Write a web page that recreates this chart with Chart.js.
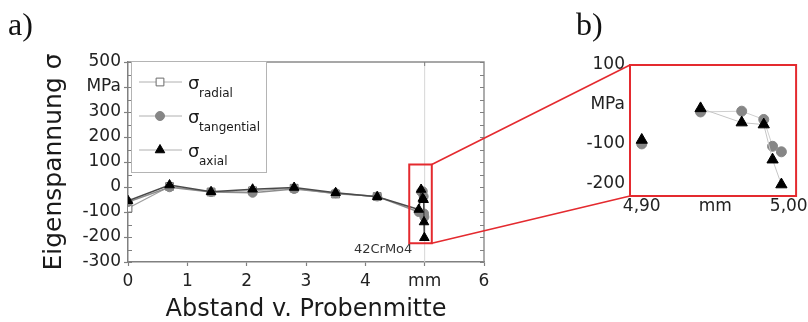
<!DOCTYPE html>
<html>
<head>
<meta charset="utf-8">
<script src="https://cdn.jsdelivr.net/npm/chart.js@4/dist/chart.umd.min.js"></script>
<style>
  html, body { margin: 0; padding: 0; background: #fff; }
  #wrap { position: relative; width: 808px; height: 322px; overflow: hidden; }
  #chartA { position: absolute; left: 0; top: 0; }
  #chartB { position: absolute; left: 560px; top: 0; }
</style>
</head>
<body>
<div id="wrap">
  <canvas id="chartA" width="808" height="322"></canvas>
  <canvas id="chartB" width="248" height="322"></canvas>
</div>
<script>
// Distance from specimen centre (mm)
const depthCore = [0, 0.7, 1.4, 2.1, 2.8, 3.5, 4.2];
const depthEdge = [4.90, 4.94, 4.968, 4.983, 4.989, 4.995];

// Residual stress components (MPa)
const radial     = [-85, 2, -20, -15, -5, -28, -38];
const tangential = [-60, -1, -20, -23, -8, -25, -38, -100, -19, -17, -38, -106, -120];
const axial      = [-55, 8, -19, -9, -2, -23, -39, -90, -10, -46, -51, -140, -203];

const seriesNames = ['radial', 'tangential', 'axial'];

// Tick labels
const xTickLabels = ['0', '1', '2', '3', '4', 'mm', '6'];
const yTickLabels = ['-300', '-200', '-100', '0', '100', '200', '300', 'MPa', '500'];
const zoomXTickLabels = ['4,90', 'mm', '5,00'];
const zoomYTickLabels = ['-200', '-100', 'MPa', '100'];

// Detail window (panel b) and the frame marking it in panel a
const zoomWindow = { xMin: 4.892, xMax: 5.005, yMin: -232, yMax: 100 };
const zoomFrame  = { xMin: 4.74, xMax: 5.12, yMin: -225, yMax: 90 };

const FONT = '"DejaVu Sans", Arial, sans-serif';
const SERIF = '"Liberation Serif", "Times New Roman", serif';
const RED = '#e42a2f';

const allDepth = depthCore.concat(depthEdge);
const pts = (xs, ys) => ys.map((y, i) => ({ x: xs[i], y }));

function makeDatasets(detail) {
  const gap = detail
    ? { borderColor: c => (c.p1.parsed.x - c.p0.parsed.x > 0.03 ? 'rgba(0,0,0,0)' : undefined) }
    : {};
  return [
    {
      label: seriesNames[0], data: pts(depthCore, radial),
      pointStyle: 'rect', pointRadius: detail ? 6 : 5.5,
      pointBackgroundColor: '#fff', pointBorderColor: '#6a6a6a', pointBorderWidth: 1,
      borderColor: detail ? '#cfcfcf' : '#a0a0a0', borderWidth: 1.2, order: 2, segment: gap
    },
    {
      label: seriesNames[1], data: pts(allDepth, tangential),
      pointStyle: 'circle', pointRadius: detail ? 5 : 4.5,
      pointBackgroundColor: '#868686', pointBorderColor: '#868686', pointBorderWidth: 1,
      borderColor: detail ? '#cfcfcf' : '#8c8c8c', borderWidth: detail ? 1 : 1.4, order: 1, segment: gap
    },
    {
      label: seriesNames[2], data: pts(allDepth, axial),
      pointStyle: 'triangle', pointRadius: detail ? 6.5 : 5.5,
      pointBackgroundColor: '#000', pointBorderColor: '#000', pointBorderWidth: 1,
      borderColor: detail ? '#c6c6c6' : '#4a4a4a', borderWidth: detail ? 1 : 1.5, order: 0, segment: gap
    }
  ];
}

// ---------- panel b: near-surface detail ----------
const detailDecor = {
  id: 'detailDecor',
  afterDraw(chart) {
    const { ctx, chartArea: a } = chart;
    ctx.save();
    ctx.strokeStyle = RED;
    ctx.lineWidth = 2;
    ctx.strokeRect(a.left, a.top, a.right - a.left, a.bottom - a.top);
    ctx.fillStyle = '#111';
    ctx.font = '32px ' + SERIF;
    ctx.textBaseline = 'alphabetic';
    ctx.fillText('b)', 16, 35);
    ctx.restore();
  }
};

const chartB = new Chart(document.getElementById('chartB'), {
  type: 'line',
  data: { datasets: makeDatasets(true) },
  options: {
    responsive: false, animation: false, devicePixelRatio: 1,
    layout: { padding: { left: 0, top: 65, right: 3, bottom: 100 } },
    plugins: { legend: { display: false }, tooltip: { enabled: false } },
    scales: {
      x: {
        type: 'linear', min: zoomWindow.xMin, max: zoomWindow.xMax,
        ticks: { stepSize: 0.05, includeBounds: false, padding: 0, color: '#222',
                 font: { family: FONT, size: 17 }, maxRotation: 0, autoSkip: false,
                 callback: (v, i) => zoomXTickLabels[i] },
        grid: { display: false, drawTicks: false },
        border: { display: false },
        afterFit: s => { s.height = 26; }
      },
      y: {
        min: zoomWindow.yMin, max: zoomWindow.yMax,
        ticks: { stepSize: 100, includeBounds: false, padding: 5, color: '#222',
                 font: { family: FONT, size: 17 }, autoSkip: false,
                 callback: (v, i) => zoomYTickLabels[i] },
        grid: { display: false, drawTicks: false },
        border: { display: false },
        afterFit: s => { s.width = 70; }
      }
    }
  },
  plugins: [detailDecor]
});

// ---------- panel a: full profile ----------
const profileDecor = {
  id: 'profileDecor',
  beforeDatasetsDraw(chart) {
    const { ctx, chartArea: a, scales: { x } } = chart;
    ctx.save();
    // reference line at the specimen surface
    const xs = x.getPixelForValue(5);
    ctx.strokeStyle = '#d6d6d6';
    ctx.lineWidth = 1;
    ctx.beginPath(); ctx.moveTo(xs, a.top); ctx.lineTo(xs, a.bottom); ctx.stroke();
    // top and right frame
    ctx.strokeStyle = '#8a8a8a';
    ctx.lineWidth = 1.4;
    ctx.beginPath();
    ctx.moveTo(a.left, a.top); ctx.lineTo(a.right, a.top); ctx.lineTo(a.right, a.bottom);
    ctx.stroke();
    // inward ticks every 50 MPa on both vertical axes
    const y = chart.scales.y;
    ctx.lineWidth = 1;
    ctx.strokeStyle = '#808080';
    ctx.beginPath();
    for (let v = y.min; v <= y.max; v += 50) {
      const py = Math.round(y.getPixelForValue(v)) + 0.5;
      ctx.moveTo(a.left, py); ctx.lineTo(a.left + 4, py);
      ctx.moveTo(a.right, py); ctx.lineTo(a.right - 4, py);
    }
    ctx.moveTo(xs, a.top); ctx.lineTo(xs, a.top + 4);
    ctx.stroke();
    ctx.restore();
  },
  afterDraw(chart) {
    const { ctx, chartArea: a, scales: { x, y } } = chart;
    ctx.save();

    // material label
    ctx.fillStyle = '#333';
    ctx.font = '13px ' + FONT;
    ctx.textAlign = 'center';
    ctx.textBaseline = 'middle';
    ctx.fillText('42CrMo4', x.getPixelForValue(4.3), y.getPixelForValue(-250));

    // frame of the detail window and connectors to panel b
    const fx0 = x.getPixelForValue(zoomFrame.xMin), fx1 = x.getPixelForValue(zoomFrame.xMax);
    const fy0 = y.getPixelForValue(zoomFrame.yMax), fy1 = y.getPixelForValue(zoomFrame.yMin);
    ctx.strokeStyle = RED;
    ctx.lineWidth = 2;
    ctx.strokeRect(fx0, fy0, fx1 - fx0, fy1 - fy0);
    const off = chartB.canvas.offsetLeft - chart.canvas.offsetLeft;
    const b = chartB.chartArea;
    ctx.lineWidth = 1.6;
    ctx.beginPath();
    ctx.moveTo(fx1, fy0); ctx.lineTo(b.left + off, b.top);
    ctx.moveTo(fx1, fy1); ctx.lineTo(b.left + off, b.bottom);
    ctx.stroke();

    // legend
    const lx = a.left + 3, ly = a.top - 1, lw = 135, lh = 111;
    ctx.fillStyle = '#fff';
    ctx.fillRect(lx, ly, lw, lh);
    ctx.strokeStyle = '#b4b4b4';
    ctx.lineWidth = 1;
    ctx.strokeRect(lx + 0.5, ly + 0.5, lw, lh);
    chart.data.datasets.forEach((ds, i) => {
      const cy = ly + 21 + i * 34;
      ctx.strokeStyle = '#b0b0b0';
      ctx.lineWidth = 1;
      ctx.beginPath(); ctx.moveTo(lx + 8, cy); ctx.lineTo(lx + 51, cy); ctx.stroke();
      ctx.fillStyle = ds.pointBackgroundColor;
      ctx.strokeStyle = ds.pointBorderColor;
      ctx.lineWidth = ds.pointBorderWidth;
      Chart.helpers.drawPoint(ctx, { pointStyle: ds.pointStyle, radius: ds.pointRadius, rotation: 0, borderWidth: ds.pointBorderWidth }, lx + 29, cy);
      ctx.fillStyle = '#1a1a1a';
      ctx.textAlign = 'left';
      ctx.textBaseline = 'alphabetic';
      ctx.font = '18px ' + FONT;
      ctx.fillText('σ', lx + 57, cy + 7);
      ctx.font = '12px ' + FONT;
      ctx.fillText(ds.label, lx + 68, cy + 15);
    });

    // panel tag
    ctx.fillStyle = '#111';
    ctx.font = '32px ' + SERIF;
    ctx.fillText('a)', 8, 35);
    ctx.restore();
  }
};

new Chart(document.getElementById('chartA'), {
  type: 'line',
  data: { datasets: makeDatasets(false) },
  options: {
    responsive: false, animation: false, devicePixelRatio: 1,
    layout: { padding: { left: 0, top: 62, right: 324, bottom: 0 } },
    plugins: { legend: { display: false }, tooltip: { enabled: false } },
    scales: {
      x: {
        type: 'linear', min: 0, max: 6,
        ticks: { stepSize: 1, padding: 5, color: '#222', maxRotation: 0, autoSkip: false,
                 font: { family: FONT, size: 17 }, callback: (v, i) => xTickLabels[i] },
        grid: { drawOnChartArea: false, tickLength: 4, color: '#808080', tickWidth: 1.2 },
        border: { color: '#808080', width: 1.5 },
        title: { display: true, text: 'Abstand v. Probenmitte', color: '#1a1a1a',
                 font: { family: FONT, size: 24, lineHeight: 1 }, padding: { top: 0, bottom: 0 } },
        afterFit: s => { s.height = 60; }
      },
      y: {
        min: -300, max: 500,
        ticks: { stepSize: 100, padding: 3, color: '#222', autoSkip: false,
                 font: { family: FONT, size: 17 }, callback: (v, i) => yTickLabels[i] },
        grid: { drawOnChartArea: false, tickLength: 4, color: '#808080', tickWidth: 1.2 },
        border: { color: '#808080', width: 1.5 },
        title: { display: true, text: 'Eigenspannung σ', color: '#1a1a1a',
                 font: { family: FONT, size: 25, lineHeight: 1 }, padding: { top: 42, bottom: 0 } },
        afterFit: s => { s.width = 128; }
      }
    }
  },
  plugins: [profileDecor]
});
</script>
</body>
</html>
